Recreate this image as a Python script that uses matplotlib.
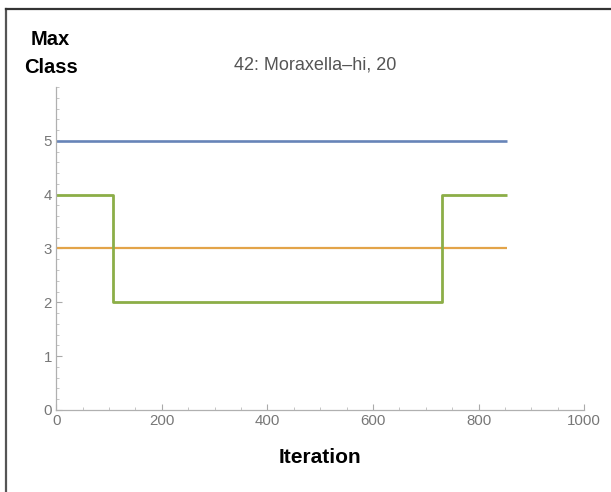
import matplotlib.pyplot as plt
from matplotlib.lines import Line2D
from matplotlib.ticker import MultipleLocator

plt.rcParams['font.family'] = ['Liberation Sans', 'DejaVu Sans']

# max class per iteration for each series
blue_x = [0, 853]
blue_y = [5, 5]
orange_x = [0, 853]
orange_y = [3, 3]
green_x = [0, 108, 730, 853]
green_y = [4, 2, 4, 4]

title = "42: Moraxella\u2013hi, 20"

fig = plt.figure(figsize=(6.11, 4.92), dpi=100)
ax = fig.add_axes([0.0921, 0.1667, 0.8642, 0.6565])

ax.plot(blue_x, blue_y, color="#6784b8", lw=1.9, solid_capstyle="butt")
ax.plot(orange_x, orange_y, color="#e3a449", lw=1.6, solid_capstyle="butt")
ax.plot(green_x, green_y, color="#8cae47", lw=2.0, drawstyle="steps-post",
        solid_capstyle="butt")

ax.set_xlim(0, 1000)
ax.set_ylim(0, 6.0)
ax.xaxis.set_major_locator(MultipleLocator(200))
ax.xaxis.set_minor_locator(MultipleLocator(50))
ax.set_yticks([0, 1, 2, 3, 4, 5])
ax.yaxis.set_minor_locator(MultipleLocator(0.2))

for side in ("top", "right"):
    ax.spines[side].set_visible(False)
for side in ("left", "bottom"):
    ax.spines[side].set_color("#b0b0b0")
    ax.spines[side].set_linewidth(0.9)

ax.tick_params(which="major", direction="in", length=4, width=0.8,
               color="#aaaaaa", labelcolor="#777777", labelsize=10.8, pad=3)
ax.tick_params(which="minor", direction="in", length=2.2, width=0.6,
               color="#bbbbbb")

ax.set_xlabel("Iteration", fontsize=15, fontweight="bold", labelpad=14)
fig.text(0.083, 0.891, "Max\nClass", fontsize=14.5, fontweight="bold",
         ha="center", va="center", linespacing=1.6)
fig.text(0.516, 0.868, title, fontsize=13, color="#555555",
         ha="center", va="center")

# frame lines along the top and left edges
fig.add_artist(Line2D([0.0105, 0.0105], [0, 0.981], color="#555555", lw=1.6,
                      transform=fig.transFigure))
fig.add_artist(Line2D([0.0105, 1], [0.981, 0.981], color="#333333", lw=1.6,
                      transform=fig.transFigure))

fig.savefig("out.png", dpi=100)
